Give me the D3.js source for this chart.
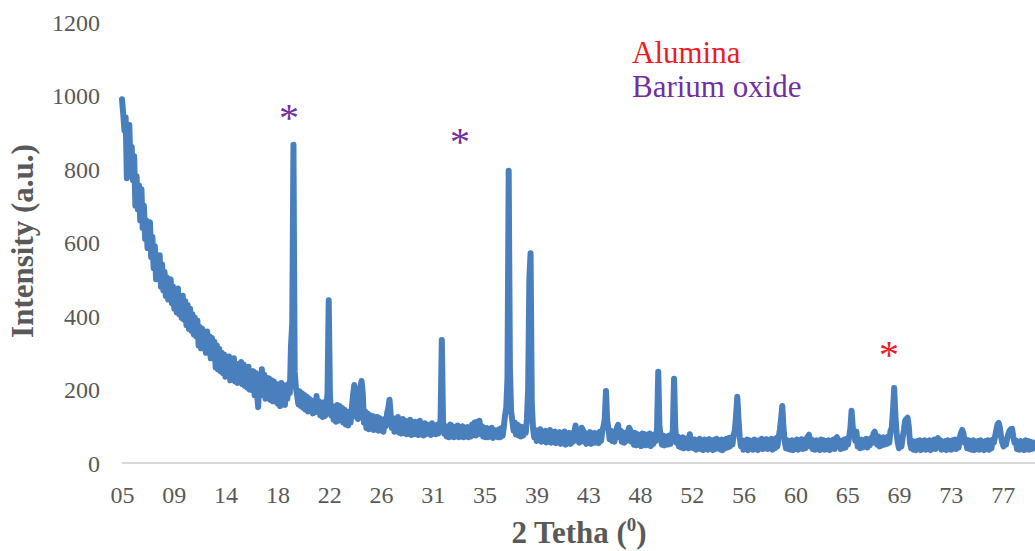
<!DOCTYPE html>
<html>
<head>
<meta charset="utf-8">
<script src="https://cdn.jsdelivr.net/npm/d3@7"></script>
<style>
  html, body { margin: 0; padding: 0; background: #ffffff; }
  svg { display: block; }
</style>
</head>
<body>
<svg id="chart" width="1035" height="551"></svg>
<script>
// XRD pattern: intensity sampled every 0.1 degree of 2-theta, from 5 to 80.
const thetaStart = 5;
const thetaStep = 0.1;
const intensity = [
  990, 950, 905, 940, 775, 850, 920, 800, 860, 770,   // 5
  835, 700, 780, 690, 755, 660, 745, 640, 700, 610,   // 6
  660, 585, 640, 655, 560, 615, 530, 590, 500, 560,   // 7
  525, 565, 480, 540, 470, 520, 455, 505, 445, 490,   // 8
  500, 435, 480, 420, 470, 410, 475, 405, 450, 395,   // 9
  455, 390, 440, 375, 430, 365, 420, 360, 405, 350,   // 10
  395, 345, 388, 320, 370, 312, 365, 330, 350, 300,   // 11
  358, 300, 345, 285, 340, 290, 330, 260, 320, 255,   // 12
  310, 250, 300, 245, 295, 235, 285, 240, 290, 225,   // 13
  280, 228, 285, 222, 270, 218, 262, 235, 275, 215,   // 14
  268, 210, 255, 205, 262, 200, 240, 198, 250, 185,   // 15
  245, 190, 152, 235, 190, 255, 185, 240, 175, 232,   // 16
  180, 230, 172, 225, 168, 222, 185, 215, 162, 210,   // 17
  155, 218, 165, 212, 158, 205, 175, 215, 190, 320,   // 18
  380, 866, 250, 205, 185, 160, 195, 155, 190, 150,   // 19
  185, 145, 180, 140, 175, 150, 170, 135, 165, 138,   // 20
  182, 140, 168, 130, 160, 125, 165, 128, 150, 190,   // 21
  443, 185, 130, 155, 118, 150, 112, 158, 115, 155,   // 22
  120, 150, 110, 145, 105, 140, 102, 135, 110, 150,   // 23
  185, 212, 180, 125, 120, 140, 205, 223, 190, 110,   // 24
  140,  95, 135,  92, 130,  98, 128,  90, 125,  95,   // 25
  125,  88, 122,  92, 118,  85, 120, 100, 135, 150,   // 26
  172, 130,  95, 122,  85, 118,  88, 125,  82, 115,   // 27
   80, 120,  84, 115,  78, 112,  80, 118,  76, 110,   // 28
   78, 112,  80, 108,  76, 115,  82, 105,  75, 108,   // 29
   78, 105,  80, 102,  76, 108,  80, 100,  78, 104,   // 30
   80,  98, 120, 335, 115,  80, 100,  72,  98,  70,   // 31
  105,  72, 100,  70,  98,  75, 102,  70,  95,  72,   // 32
  100,  70,  96,  74,  98,  70,  92,  72, 105,  76,   // 33
  110,  75, 112,  80, 115,  78, 100,  72,  96,  70,   // 34
   95,  70,  92,  72,  96,  68,  90,  72,  88,  70,   // 35
   92,  70,  95,  74,  98, 130, 150, 230, 795, 260,   // 36
  140, 115,  88, 110,  78, 105,  75, 100,  72,  98,   // 37
   75,  95,  82, 120, 200, 500, 571, 160,  95,  70,   // 38
   90,  60,  88,  62,  92,  58,  85,  60,  88,  56,   // 39
   85,  58,  90,  55,  82,  60,  86,  54,  80,  56,   // 40
   84,  52,  80,  55,  86,  50,  78,  54,  82,  52,   // 41
   80,  58,  85, 102,  62,  84,  55,  80,  96,  90,   // 42
   58,  82,  52,  80,  55,  84,  52,  78,  55,  82,   // 43
   56,  80,  54,  85,  60,  88, 100, 120, 196, 115,   // 44
   95,  65,  88,  60,  85,  58,  82,  95, 104,  70,   // 45
   88,  58,  84,  55,  80,  60,  85,  96,  90,  58,   // 46
   80,  50,  82,  48,  78,  52,  75,  46,  80,  50,   // 47
   78,  48,  75,  50,  80,  46,  72,  52,  78,  60,   // 48
   95, 248, 100,  70,  50,  75,  48,  52,  72,  50,   // 49
   75,  52,  70,  90, 229,  95,  55,  72,  45,  68,   // 50
   42,  70,  40,  66,  44,  68,  40,  78,  50,  65,   // 51
   40,  64,  36,  62,  40,  66,  38,  60,  35,  64,   // 52
   40,  62,  36,  65,  42,  60,  35,  63,  38,  66,   // 53
   40,  60,  37,  64,  35,  62,  40,  66,  42,  68,   // 54
   45,  70,  50,  75,  90, 130, 180, 120,  70,  45,   // 55
   62,  36,  60,  38,  64,  35,  62,  40,  60,  36,   // 56
   64,  38,  60,  35,  62,  40,  66,  38,  62,  40,   // 57
   65,  38,  62,  42,  66,  36,  64,  40,  68,  45,   // 58
   70,  90, 120, 155,  95,  60,  40,  62,  38,  60,   // 59
   36,  62,  35,  60,  38,  64,  36,  62,  40,  65,   // 60
   38,  62,  40,  66,  72,  77,  45,  64,  38,  60,   // 61
   36,  62,  38,  60,  35,  64,  40,  62,  36,  60,   // 62
   38,  62,  35,  60,  40,  64,  38,  66,  70,  45,   // 63
   62,  38,  60,  40,  64,  42,  66,  50,  72,  95,   // 64
  142,  95,  88,  60,  85,  45,  62,  40,  64,  42,   // 65
   62,  45,  66,  42,  64,  48,  68,  55,  80,  85,   // 66
   70,  50,  72,  45,  66,  48,  70,  50,  68,  52,   // 67
   72,  55,  88,  95, 140, 204, 130,  80,  55,  40,   // 68
   60,  45,  70,  90, 115, 120, 123, 100,  55,  40,   // 69
   60,  36,  58,  35,  60,  38,  62,  35,  58,  40,   // 70
   62,  36,  58,  38,  62,  35,  60,  40,  64,  38,   // 71
   60,  68,  42,  62,  36,  58,  38,  60,  35,  62,   // 72
   38,  60,  36,  62,  40,  64,  38,  60,  42,  70,   // 73
   82,  90,  80,  55,  64,  40,  62,  38,  60,  36,   // 74
   62,  35,  58,  38,  60,  36,  62,  40,  58,  35,   // 75
   60,  38,  62,  36,  58,  40,  64,  55,  72,  90,   // 76
  105, 109,  95,  70,  55,  45,  62,  50,  68,  80,   // 77
   88,  92,  93,  70,  55,  62,  38,  58,  36,  60,   // 78
   38,  58,  35,  62,  40,  60,  36,  58,  38,  56,   // 79
   40                                                 // 80
];

// Axis ticks
const yTicks = [0, 200, 400, 600, 800, 1000, 1200];
const xTickLabels = ["05", "09", "14", "18", "22", "26", "31", "35", "39",
                     "43", "48", "52", "56", "60", "65", "69", "73", "77"];
const xTickStep = 4.26;

// Phase legend and peak markers
const phaseNames = ["Alumina", "Barium oxide"];
const phaseColors = ["#ed1c24", "#7030a0"];
const markerTheta = [18.73, 32.8, 68.08];
const markerLevel = [950, 884, 305];
const markerPhase = [1, 1, 0];

const svg = d3.select("#chart");
const W = 1035, H = 551;
svg.append("rect").attr("width", W).attr("height", H).attr("fill", "#ffffff");

const plot = { left: 122, right: 1034, top: 22, bottom: 463 };

const x = d3.scaleLinear().domain([5, 80]).range([plot.left, plot.right]);
const y = d3.scaleLinear().domain([0, 1200]).range([plot.bottom, plot.top]);

const serif = "'Liberation Serif', 'Times New Roman', serif";
const textGray = "#595959";

// Y axis: labels only
const yAxis = d3.axisLeft(y).tickValues(yTicks).tickFormat(d3.format("d"))
  .tickSize(0).tickPadding(0);
const gy = svg.append("g").attr("transform", "translate(100,0)").call(yAxis);
gy.select(".domain").remove();
gy.selectAll("text")
  .attr("font-family", serif).attr("font-size", 24)
  .attr("fill", textGray).attr("dy", "0.34em");

// X axis: light baseline with labels every 4.26 degrees
const xTickValues = xTickLabels.map((_, i) => thetaStart + i * xTickStep);
const xAxis = d3.axisBottom(x).tickValues(xTickValues)
  .tickFormat((d, i) => xTickLabels[i]).tickSize(0).tickPadding(0);
const gx = svg.append("g").attr("transform", `translate(0,${plot.bottom})`).call(xAxis);
gx.select(".domain").attr("stroke", "#d9d9d9").attr("stroke-width", 2)
  .attr("d", `M${plot.left},0H${W}`);
gx.selectAll("text")
  .attr("font-family", serif).attr("font-size", 24)
  .attr("fill", textGray).attr("dy", null).attr("y", 40);

// Diffraction pattern
const line = d3.line()
  .x((d, i) => x(thetaStart + i * thetaStep))
  .y(d => y(d));
svg.append("path")
  .datum(intensity)
  .attr("d", line)
  .attr("fill", "none")
  .attr("stroke", "#4a7fbe")
  .attr("stroke-width", 6)
  .attr("stroke-linejoin", "round")
  .attr("stroke-linecap", "round");

// Peak markers
svg.append("g").selectAll("text")
  .data(markerTheta)
  .join("text")
  .attr("x", d => x(d))
  .attr("y", (d, i) => y(markerLevel[i]) + 17)
  .attr("text-anchor", "middle")
  .attr("font-family", serif)
  .attr("font-size", 40)
  .attr("fill", (d, i) => phaseColors[markerPhase[i]])
  .text("*");

// Phase legend
svg.append("g").selectAll("text")
  .data(phaseNames)
  .join("text")
  .attr("x", 632)
  .attr("y", (d, i) => 63 + i * 34)
  .attr("font-family", serif)
  .attr("font-size", 31)
  .attr("fill", (d, i) => phaseColors[i])
  .text(d => d);

// Axis titles
const xTitle = svg.append("text")
  .attr("x", 579).attr("y", 543)
  .attr("text-anchor", "middle")
  .attr("font-family", serif).attr("font-size", 31).attr("font-weight", "bold")
  .attr("fill", textGray);
xTitle.append("tspan").text("2 Tetha (");
xTitle.append("tspan").attr("font-size", 19).attr("dy", -12).text("0");
xTitle.append("tspan").attr("dy", 12).text(")");

svg.append("text")
  .attr("transform", "translate(33,241) rotate(-90)")
  .attr("text-anchor", "middle")
  .attr("font-family", serif).attr("font-size", 31).attr("font-weight", "bold")
  .attr("fill", textGray)
  .text("Intensity (a.u.)");
</script>
</body>
</html>
